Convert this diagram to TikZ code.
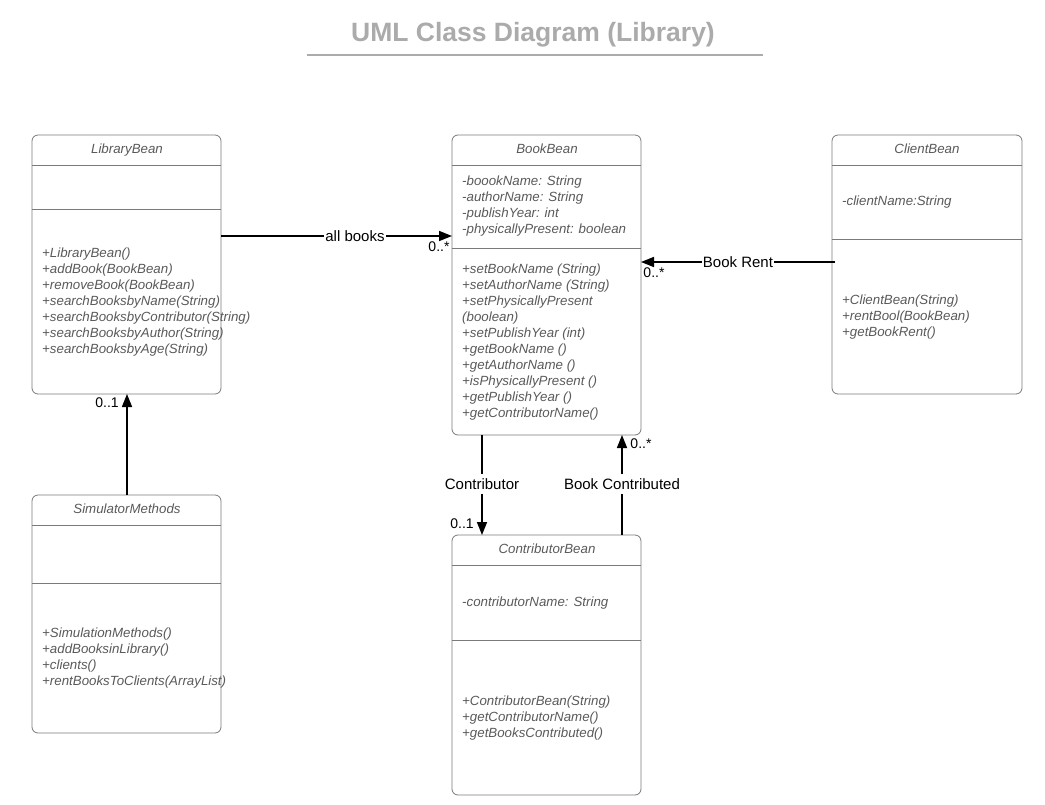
\documentclass[tikz,border=0pt]{standalone}
\usepackage{fontspec}
\setmainfont{Liberation Sans}
\usetikzlibrary{arrows.meta}
\definecolor{boxgray}{HTML}{7A7A7A}
\definecolor{txtgray}{HTML}{5A5A5A}
\definecolor{titlegray}{HTML}{ABABAB}
\tikzset{
  cls/.style={draw=boxgray, line width=0.8pt, rounded corners=6pt, fill=white, inner sep=0pt, outer sep=0pt, anchor=north west},
  sepline/.style={draw=boxgray, line width=0.8pt},
  hdr/.style={font=\fontsize{13.3}{16}\selectfont\itshape, text=txtgray, inner sep=0pt, anchor=base},
  mem/.style={font=\fontsize{13.3}{16}\selectfont\itshape, text=txtgray, inner sep=0pt, anchor=base west, align=left},
  conn/.style={line width=1.6pt, -{Triangle[length=13pt,width=10pt]}},
  lbl/.style={font=\fontsize{15}{18}\selectfont, fill=white, inner sep=1pt},
  mult/.style={font=\fontsize{14}{16}\selectfont, inner sep=0pt},
}
\begin{document}
\begin{tikzpicture}[x=1pt,y=-1pt]
\useasboundingbox[fill=white] (0,0) rectangle (1045,805);
% title
\node[font=\fontsize{26.5}{30}\selectfont\bfseries, text=titlegray] (title) at (533,35) {UML Class Diagram (Library)};
\draw[titlegray, line width=1.5pt] (307,55) coordinate (tl) -- (763,55) coordinate (tr);

% LibraryBean (multi-line member nodes are anchored at the baseline of their last line)
\node[cls, minimum width=189pt, minimum height=259pt] (lib) at (32,135) {};
\draw[sepline] (lib.west |- 0,165) -- (lib.east |- 0,165);
\draw[sepline] (lib.west |- 0,209) -- (lib.east |- 0,209);
\node[hdr] (libh) at (127,153.5) {LibraryBean};
\node[mem] (libm) at (42,353.5) {+LibraryBean()\\+addBook(BookBean)\\+removeBook(BookBean)\\+searchBooksbyName(String)\\+searchBooksbyContributor(String)\\+searchBooksbyAuthor(String)\\+searchBooksbyAge(String)};

% BookBean
\node[cls, minimum width=189pt, minimum height=300pt] (book) at (452,135) {};
\draw[sepline] (book.west |- 0,165) -- (book.east |- 0,165);
\draw[sepline] (book.west |- 0,248) -- (book.east |- 0,248);
\node[hdr] (bookh) at (547,153.5) {BookBean};
\node[mem] (booka) at (462,234) {-boookName: String\\-authorName: String\\-publishYear: int\\-physicallyPresent: boolean};
\node[mem] (bookm) at (462,417.5) {+setBookName (String)\\+setAuthorName (String)\\+setPhysicallyPresent\\(boolean)\\+setPublishYear (int)\\+getBookName ()\\+getAuthorName ()\\+isPhysicallyPresent ()\\+getPublishYear ()\\+getContributorName()};

% ClientBean
\node[cls, minimum width=190pt, minimum height=259pt] (client) at (832,135) {};
\draw[sepline] (client.west |- 0,165) -- (client.east |- 0,165);
\draw[sepline] (client.west |- 0,239) -- (client.east |- 0,239);
\node[hdr] (clienth) at (927,153.5) {ClientBean};
\node[mem] (clienta) at (842,205.5) {-clientName:String};
\node[mem] (clientm) at (842,336.5) {+ClientBean(String)\\+rentBool(BookBean)\\+getBookRent()};

% SimulatorMethods
\node[cls, minimum width=189pt, minimum height=238pt] (sim) at (32,495) {};
\draw[sepline] (sim.west |- 0,525) -- (sim.east |- 0,525);
\draw[sepline] (sim.west |- 0,583) -- (sim.east |- 0,583);
\node[hdr] (simh) at (127,513.5) {SimulatorMethods};
\node[mem] (simm) at (42,685.5) {+SimulationMethods()\\+addBooksinLibrary()\\+clients()\\+rentBooksToClients(ArrayList)};

% ContributorBean
\node[cls, minimum width=189pt, minimum height=260pt] (contrib) at (452,535) {};
\draw[sepline] (contrib.west |- 0,565) -- (contrib.east |- 0,565);
\draw[sepline] (contrib.west |- 0,640) -- (contrib.east |- 0,640);
\node[hdr] (contribh) at (547,553.5) {ContributorBean};
\node[mem] (contriba) at (462,606.5) {-contributorName: String};
\node[mem] (contribm) at (462,737.5) {+ContributorBean(String)\\+getContributorName()\\+getBooksContributed()};

% connectors
\draw[conn] (lib.east |- 0,236) -- node[lbl, pos=0.58] (lab1) {all books} (book.west |- 0,236);
\node[mult] (m1) at (439,247) {0..*};

\draw[conn] ([xshift=3pt]client.west |- 0,262) -- node[lbl] (lab2) {Book Rent} (book.east |- 0,262);
\node[mult] (m2) at (654,273) {0..*};

\draw[conn] (sim.north -| 127,0) -- (lib.south -| 127,0);
\node[mult] (m3) at (107,403) {0..1};

\draw[conn] (book.south -| 482,0) -- node[lbl, inner ysep=4pt, pos=0.49] (lab3) {Contributor} (contrib.north -| 482,0);
\node[mult] (m4) at (462,524) {0..1};

\draw[conn] (contrib.north -| 622,0) -- node[lbl, inner ysep=4pt, pos=0.51] (lab4) {Book Contributed} (book.south -| 622,0);
\node[mult] (m5) at (641,444) {0..*};
\end{tikzpicture}
\end{document}
